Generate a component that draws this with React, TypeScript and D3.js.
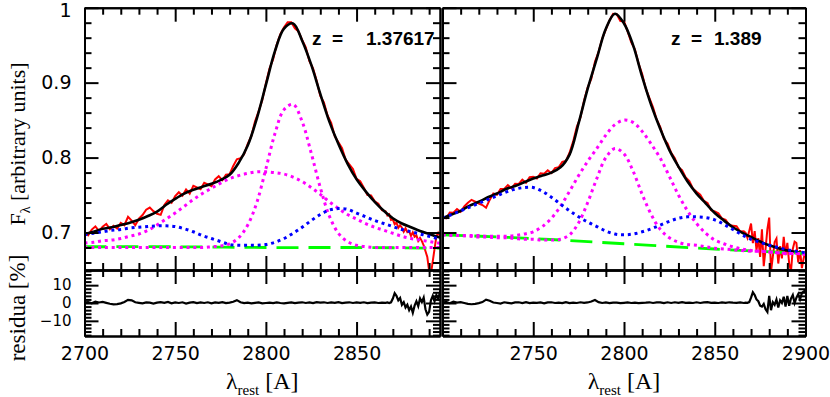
import { useEffect, useRef } from "react";
import * as d3 from "d3";

// wavelength grid of the fitted model and its components (rest frame, A)
const modelGrid = [
  2700, 2705, 2710, 2715, 2720, 2725, 2730, 2735, 2740, 2745, 2750, 2755, 2760, 2765,
  2770, 2775, 2780, 2785, 2790, 2795, 2800, 2805, 2810, 2815, 2820, 2825, 2830, 2835,
  2840, 2845, 2850, 2855, 2860, 2865, 2870, 2875, 2880, 2885, 2890, 2895, 2900,
];
const contGrid = [2700, 2750, 2800, 2850, 2900];

// wavelength grid of the observed spectrum and the residuals
const specGrid = [
  2700, 2702, 2704, 2706, 2708, 2710, 2712, 2714, 2716, 2718,
  2720, 2722, 2724, 2726, 2728, 2730, 2732, 2734, 2736, 2738,
  2740, 2742, 2744, 2746, 2748, 2750, 2752, 2754, 2756, 2758,
  2760, 2762, 2764, 2766, 2768, 2770, 2772, 2774, 2776, 2778,
  2780, 2782, 2784, 2786, 2788, 2790, 2792, 2794, 2796, 2798,
  2800, 2802, 2804, 2806, 2808, 2810, 2812, 2814, 2816, 2818,
  2820, 2822, 2824, 2826, 2828, 2830, 2832, 2834, 2836, 2838,
  2840, 2842, 2844, 2846, 2848, 2850, 2852, 2854, 2856, 2858,
  2860, 2862, 2864, 2866,
  2867, 2868, 2869, 2870, 2871, 2872, 2873, 2874, 2875, 2876, 2877, 2878, 2879, 2880,
  2881, 2882, 2883, 2884, 2885, 2886, 2887, 2888, 2889, 2890, 2891, 2892, 2893, 2894,
  2895, 2896, 2897, 2898, 2899, 2900,
];

// ---- z = 1.37617 ----
const modelL = [
  0.698, 0.701, 0.705, 0.707, 0.710, 0.713, 0.717, 0.722, 0.728, 0.737, 0.745, 0.752, 0.757, 0.761,
  0.765, 0.770, 0.777, 0.793, 0.816, 0.852, 0.897, 0.942, 0.972, 0.979, 0.956, 0.924, 0.885, 0.848,
  0.818, 0.792, 0.771, 0.755, 0.741, 0.729, 0.719, 0.712, 0.707, 0.702, 0.698, 0.694, 0.691,
];
const contL = [0.681, 0.681, 0.680, 0.680, 0.679];
const blueL = [
  0.697, 0.699, 0.701, 0.703, 0.704, 0.706, 0.707, 0.708, 0.709, 0.709, 0.708, 0.705, 0.701, 0.696,
  0.692, 0.688, 0.684, 0.683, 0.683, 0.683, 0.684, 0.687, 0.692, 0.699, 0.707, 0.716, 0.724, 0.730,
  0.732, 0.731, 0.726, 0.721, 0.716, 0.712, 0.708, 0.704, 0.701, 0.698, 0.695, 0.692, 0.690,
];
const broadL = [
  0.686, 0.687, 0.689, 0.690, 0.692, 0.695, 0.698, 0.703, 0.710, 0.718, 0.726, 0.735, 0.744, 0.752,
  0.759, 0.766, 0.772, 0.776, 0.779, 0.781, 0.781, 0.780, 0.778, 0.774, 0.768, 0.760, 0.751, 0.741,
  0.732, 0.724, 0.718, 0.712, 0.707, 0.703, 0.699, 0.695, 0.692, 0.690, 0.688, 0.686, 0.685,
];
const narrowL = [
  0.680, 0.680, 0.680, 0.680, 0.680, 0.680, 0.680, 0.680, 0.680, 0.680, 0.680, 0.680, 0.680, 0.680,
  0.681, 0.682, 0.685, 0.693, 0.710, 0.740, 0.785, 0.832, 0.864, 0.871, 0.848, 0.806, 0.760, 0.722,
  0.699, 0.688, 0.683, 0.681, 0.680, 0.680, 0.680, 0.680, 0.680, 0.680, 0.680, 0.680, 0.680,
];
// observed spectrum, % deviation from the model
const obsDevL = [
  0.3, -0.4, 0.5, 0.9, -0.2, 0.4, 0.8, -0.3, 0.2, -0.5,
  0.4, -0.2, 1.2, 0.3, -0.8, 0.2, 0.6, 1.3, 1.4, 0.4,
  -0.4, -1.1, 0.2, 0.6, -0.3, 0.5, 0.8, -0.2, 0.6, -0.4,
  0.7, 0.2, -0.3, 0.6, 0.1, -0.4, 0.5, 0.8, -0.2, 0.4,
  0.1, 0.7, 1.0, 0.2, -0.3, 0.3, -0.2, 0.4, 0.1, -0.3,
  0.2, 0.4, -0.2, 0.3, 0.5, 0.2, 0.6, 0.3, -0.2, 0.3,
  0.1, 0.4, -0.2, 0.3, 0.2, -0.3, 0.4, 0.1, 0.5, -0.2,
  0.3, 0.6, 0.0, 0.4, 0.7, 0.1, 0.5, 0.2, -0.3, 0.4,
  0.1, 0.3, -0.2, 0.2,
  -0.3, 0.2, -0.6, -0.2, -0.9, -0.4, -1.2, -0.5, -0.8, -1.4, -0.6, -1.2, -0.9, -1.6,
  -0.8, -1.5, -1.1, -2.0, -1.3, -1.8, -2.5, -3.5, -4.5, -7.0, -7.5, -5.0, -2.5, 0.0,
  0.8, 0.3, -0.5, 0.4, -0.8, 0.0,
];
const residuaL = [
  0.3, 0.5, -0.2, 0.8, 0.3, 0.6, 0.1, -0.4, -0.8, -0.6,
  -0.2, 0.6, 1.8, 1.5, 0.4, 0.1, -0.2, 0.3, 0.2, -0.3,
  0.2, 0.5, 0.1, 0.6, -0.2, 0.3, 0.0, 0.4, -0.3, 0.2,
  0.5, -0.1, 0.3, 0.0, 0.4, -0.2, 0.3, 0.1, 0.5, -0.1,
  0.2, 0.7, 1.6, 0.4, -0.1, 0.2, -0.2, 0.1, 0.3, -0.2,
  0.0, 0.2, -0.1, 0.3, 0.0, -0.2, 0.1, 0.3, -0.1, 0.2,
  0.4, 0.0, 0.3, -0.1, 0.5, 0.2, 0.4, 0.0, 0.3, 0.1,
  0.5, -0.1, 0.2, 0.4, 0.0, 0.3, 0.1, 0.4, -0.1, 0.2,
  0.3, 0.0, 0.2, 0.1,
  0.3, 0.0, 0.4, 2.5, 5.5, 4.0, 1.5, 2.8, -1.0, 0.5, -2.5, -1.0, -4.0, -2.0,
  -5.5, -1.5, 1.0, -1.8, 2.5, 0.5, 3.0, -3.5, -6.5, -5.0, 1.5, 4.0, 1.0, 4.5,
  2.5, 6.0, 4.0, 6.5, 5.0, 7.0,
];

// ---- z = 1.389 ----
const modelR = [
  0.719, 0.724, 0.729, 0.736, 0.741, 0.747, 0.752, 0.758, 0.762, 0.767, 0.772, 0.776, 0.780, 0.787,
  0.804, 0.846, 0.892, 0.932, 0.972, 0.992, 0.979, 0.950, 0.908, 0.870, 0.838, 0.810, 0.788, 0.768,
  0.752, 0.739, 0.726, 0.716, 0.707, 0.700, 0.694, 0.688, 0.683, 0.679, 0.676, 0.674, 0.672,
];
const contR = [0.697, 0.692, 0.685, 0.678, 0.672];
const blueR = [
  0.719, 0.724, 0.729, 0.734, 0.739, 0.744, 0.749, 0.754, 0.758, 0.760, 0.760, 0.755, 0.747, 0.738,
  0.729, 0.721, 0.714, 0.708, 0.702, 0.698, 0.697, 0.698, 0.701, 0.705, 0.710, 0.715, 0.719, 0.721,
  0.721, 0.720, 0.717, 0.711, 0.704, 0.697, 0.691, 0.687, 0.683, 0.680, 0.677, 0.675, 0.673,
];
const broadR = [
  0.697, 0.697, 0.696, 0.696, 0.696, 0.695, 0.695, 0.695, 0.696, 0.698, 0.701, 0.708, 0.719, 0.735,
  0.755, 0.776, 0.795, 0.812, 0.830, 0.844, 0.850, 0.847, 0.835, 0.818, 0.799, 0.775, 0.750, 0.729,
  0.712, 0.699, 0.690, 0.685, 0.681, 0.678, 0.676, 0.675, 0.674, 0.673, 0.672, 0.672, 0.671,
];
const narrowR = [
  0.697, 0.696, 0.696, 0.695, 0.694, 0.694, 0.693, 0.693, 0.692, 0.691, 0.691, 0.690, 0.690, 0.691,
  0.697, 0.713, 0.740, 0.772, 0.800, 0.812, 0.805, 0.782, 0.751, 0.724, 0.704, 0.693, 0.687, 0.684,
  0.683, 0.681, 0.679, 0.678, 0.677, 0.676, 0.675, 0.675, 0.674, 0.673, 0.672, 0.672, 0.671,
];
const obsDevR = [
  0.2, -0.3, 0.5, 0.2, 0.6, -0.2, 0.4, 0.7, 0.9, 0.3,
  -0.3, -0.9, -1.7, -0.6, 0.3, -0.2, 0.5, 0.2, 0.6, -0.2,
  0.4, 0.1, 0.6, -0.2, 0.5, 0.3, -0.2, 0.5, 0.2, 0.6,
  -0.1, 0.4, 0.2, 0.5, -0.2, 0.3, 0.1, 0.4, -0.2, 0.3,
  0.2, -0.3, 0.4, 0.1, 0.3, -0.1, 0.3, 0.4, 0.2, -0.2,
  0.3, 0.1, -0.2, 0.3, 0.1, 0.4, -0.1, 0.2, 0.4, 0.0,
  0.3, -0.2, 0.4, 0.1, 0.3, -0.1, 0.4, 0.2, 0.5, 0.0,
  0.3, 0.5, 0.1, 0.4, -0.2, 0.3, 0.5, 0.1, 0.4, -0.1,
  0.3, 0.6, 0.0, 0.4,
  0.3, -0.5, 1.0, 2.6, -1.0, 1.5, -2.0, 0.5, -3.0, 2.5, -4.5, -1.0, 3.0, 5.4,
  -5.0, -2.0, 1.0, 1.8, -3.0, 0.5, -1.8, 2.5, -1.0, 1.5, -2.5, -4.0, 0.5, 2.0,
  1.8, -2.0, 0.5, -3.0, -1.0, 0.5,
];
const residuaR = [
  0.2, 0.6, -0.1, 0.7, 0.2, 0.5, 0.0, -0.5, -0.7, -0.5,
  -0.1, 0.5, 1.9, 1.3, 0.3, 0.0, -0.3, 0.4, 0.1, -0.2,
  0.3, 0.4, 0.0, 0.5, -0.1, 0.2, 0.1, 0.3, -0.2, 0.3,
  0.4, 0.0, 0.2, -0.1, 0.5, -0.1, 0.2, 0.0, 0.4, 0.1,
  0.3, 0.8, 1.7, 0.5, 0.0, 0.3, -0.1, 0.2, 0.2, -0.1,
  0.1, 0.3, 0.0, 0.2, -0.1, 0.1, 0.2, 0.4, 0.0, 0.3,
  0.3, -0.1, 0.4, 0.0, 0.4, 0.1, 0.5, 0.1, 0.2, 0.0,
  0.4, 0.0, 0.3, 0.5, 0.1, 0.2, 0.0, 0.3, 0.1, 0.4,
  0.2, 0.1, 0.3, 0.0,
  0.2, 0.1, 0.5, 3.0, 6.0, 4.5, 2.0, 1.0, -1.5, -2.0, -0.5, -3.5, -5.0, 4.0,
  -4.0, 0.5, -1.0, 2.0, -2.5, 1.5, 0.0, 3.5, -2.0, 4.0, -1.5, 2.5, 4.5, 0.0,
  3.0, 5.0, 2.0, 5.5, 6.5, 7.0,
];

// axis ticks and labels
const xMajor = [2700, 2750, 2800, 2850, 2900];
const xMinor = [2710, 2720, 2730, 2740, 2760, 2770, 2780, 2790, 2810, 2820, 2830, 2840, 2860, 2870, 2880, 2890];
const fMajor = [0.7, 0.8, 0.9, 1];
const fMinor = [0.66, 0.68, 0.72, 0.74, 0.76, 0.78, 0.82, 0.84, 0.86, 0.88, 0.92, 0.94, 0.96, 0.98];
const rMajor = [-10, 0, 10];
const rMinor = [-18, -16, -14, -12, -8, -6, -4, -2, 2, 4, 6, 8, 12, 14, 16, 18];

const panels = [
  {
    z: "1.37617", zPos: [312, 332, 366],
    xDomain: [2700, 2896], xRange: [84.5, 440], xLabels: [2700, 2750, 2800, 2850], yLabels: true,
    model: modelL, cont: contL, blue: blueL, broad: broadL, narrow: narrowL, dev: obsDevL, res: residuaL,
  },
  {
    z: "1.389", zPos: [671, 691, 714],
    xDomain: [2700, 2900], xRange: [442.5, 805.5], xLabels: [2750, 2800, 2850, 2900], yLabels: false,
    model: modelR, cont: contR, blue: blueR, broad: broadR, narrow: narrowR, dev: obsDevR, res: residuaR,
  },
];

const TOP = 7.7, MID = 270, BOT = 336;
const numFont = "DejaVu Sans";
const txtFont = "Liberation Serif";

function styleAxis(sel, showText, size) {
  sel.attr("font-family", numFont).attr("font-size", size);
  sel.selectAll("line").attr("stroke", "#000").attr("stroke-width", 2);
  sel.selectAll("path.domain").attr("stroke", "#000").attr("stroke-width", 2);
  sel.selectAll("text").attr("fill", "#000").style("display", showText ? null : "none");
}

export default function App() {
  const svgRef = useRef(null);

  useEffect(() => {
    const svg = d3.select(svgRef.current);
    svg.selectAll("*").remove();
    const defs = svg.append("defs");

    const yF = d3.scaleLinear().domain([0.65, 1]).range([MID, TOP]);
    const yR = d3.scaleLinear().domain([-18.5, 18.5]).range([BOT, MID]);

    panels.forEach((p, i) => {
      const x = d3.scaleLinear().domain(p.xDomain).range(p.xRange);
      const [x0, x1] = p.xRange;
      const inDom = (v) => v >= p.xDomain[0] && v <= p.xDomain[1];

      defs.append("clipPath").attr("id", `cf${i}`).append("rect")
        .attr("x", x0).attr("y", TOP).attr("width", x1 - x0).attr("height", MID - TOP);
      defs.append("clipPath").attr("id", `cr${i}`).append("rect")
        .attr("x", x0).attr("y", MID).attr("width", x1 - x0).attr("height", BOT - MID);

      // observed spectrum = model * (1 + deviation)
      const modelAt = d3.scaleLinear().domain(modelGrid).range(p.model);
      const obs = specGrid.map((l, k) => [l, modelAt(l) * (1 + p.dev[k] / 100)]);

      const lineF = d3.line().x((d) => x(d[0])).y((d) => yF(d[1])).curve(d3.curveCatmullRom);
      const lineObs = d3.line().x((d) => x(d[0])).y((d) => yF(d[1]));
      const lineRes = d3.line().x((d) => x(d[0])).y((d) => yR(d[1]));
      const pairs = (vals) => modelGrid.map((l, k) => [l, vals[k]]);

      const gF = svg.append("g").attr("clip-path", `url(#cf${i})`).attr("fill", "none");
      gF.append("path").attr("d", lineObs(obs)).attr("stroke", "#ff0000").attr("stroke-width", 2);
      gF.append("path").attr("d", lineF(pairs(p.model))).attr("stroke", "#000").attr("stroke-width", 2.6);
      gF.append("path").attr("d", lineF(contGrid.map((l, k) => [l, p.cont[k]])))
        .attr("stroke", "#00ff00").attr("stroke-width", 2.8).attr("stroke-dasharray", "22 10");
      [p.broad, p.narrow].forEach((c) => {
        gF.append("path").attr("d", lineF(pairs(c))).attr("stroke", "#ff00ff")
          .attr("stroke-width", 3).attr("stroke-dasharray", "3 3.8");
      });
      gF.append("path").attr("d", lineF(pairs(p.blue))).attr("stroke", "#0000ff")
        .attr("stroke-width", 3).attr("stroke-dasharray", "3 3.8");

      const gR = svg.append("g").attr("clip-path", `url(#cr${i})`).attr("fill", "none");
      gR.append("path").attr("d", lineRes(specGrid.map((l, k) => [l, p.res[k]])))
        .attr("stroke", "#000").attr("stroke-width", 2.2);

      // axes: ticks inside on all four sides
      const xMaj = xMajor.filter(inDom);
      const xMin = xMinor.filter(inDom);
      [[TOP, MID, yF, fMajor, fMinor, false, 19], [MID, BOT, yR, rMajor, rMinor, true, 15]].forEach(
        ([t, b, y, yMaj, yMin, bottomLabels, ySize]) => {
          const add = (axis, tx, ty, show, size = 19) => {
            const g = svg.append("g").attr("transform", `translate(${tx},${ty})`).call(axis);
            styleAxis(g, show, size);
            return g;
          };
          const xfmt = (d) => (p.xLabels.includes(d) ? String(d) : "");
          add(d3.axisBottom(x).tickValues(xMaj).tickSize(-14).tickSizeOuter(0).tickPadding(11).tickFormat(xfmt), 0, b, bottomLabels);
          add(d3.axisBottom(x).tickValues(xMin).tickSize(-7).tickSizeOuter(0).tickFormat(() => ""), 0, b, false);
          add(d3.axisTop(x).tickValues(xMaj).tickSize(-14).tickSizeOuter(0), 0, t, false);
          add(d3.axisTop(x).tickValues(xMin).tickSize(-7).tickSizeOuter(0), 0, t, false);
          const yfmt = (d) => (d < 0 ? "\u2212" + Math.abs(d) : String(d));
          const ga = add(d3.axisLeft(y).tickValues(yMaj).tickSize(-14).tickSizeOuter(0).tickPadding(13).tickFormat(yfmt), x0, 0, p.yLabels, ySize);
          ga.selectAll("text").filter((d) => d === 1).attr("dy", "0.45em");
          add(d3.axisLeft(y).tickValues(yMin).tickSize(-7).tickSizeOuter(0), x0, 0, false);
          add(d3.axisRight(y).tickValues(yMaj).tickSize(-14).tickSizeOuter(0), x1, 0, false);
          add(d3.axisRight(y).tickValues(yMin).tickSize(-7).tickSizeOuter(0), x1, 0, false);
        }
      );

      // redshift
      const zt = svg.append("text").attr("y", 45).attr("font-family", "Liberation Sans")
        .attr("font-weight", "bold").attr("font-size", 19).attr("fill", "#000");
      zt.append("tspan").attr("x", p.zPos[0]).text("z");
      zt.append("tspan").attr("x", p.zPos[1]).text("=");
      zt.append("tspan").attr("x", p.zPos[2]).text(p.z);

      // x title
      const xt = svg.append("text").attr("x", (x0 + x1) / 2).attr("y", 389)
        .attr("text-anchor", "middle").attr("font-family", txtFont).attr("font-size", 24).attr("fill", "#000");
      xt.append("tspan").text("\u03bb");
      xt.append("tspan").attr("font-size", 15).attr("dy", 6).text("rest");
      xt.append("tspan").attr("dy", -6).text(" [A]");
    });

    const yt = svg.append("text").attr("transform", "translate(25,144) rotate(-90)")
      .attr("text-anchor", "middle").attr("font-family", txtFont).attr("font-size", 22).attr("fill", "#000");
    yt.append("tspan").text("F");
    yt.append("tspan").attr("font-size", 14).attr("dy", 5).text("\u03bb");
    yt.append("tspan").attr("dy", -5).text(" [arbitrary units]");

    svg.append("text").attr("transform", "translate(25,308) rotate(-90)")
      .attr("text-anchor", "middle").attr("font-family", txtFont).attr("font-size", 23).attr("fill", "#000")
      .text("residua [%]");
  }, []);

  return (
    <svg
      ref={svgRef}
      width={830}
      height={397}
      style={{ position: "absolute", left: 0, top: 0, background: "#fff" }}
    />
  );
}
